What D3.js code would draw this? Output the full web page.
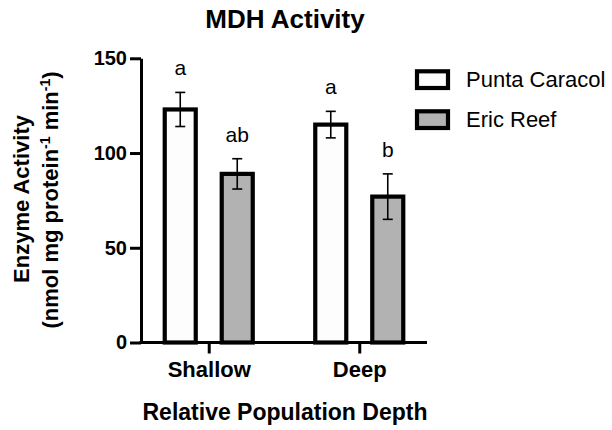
<!DOCTYPE html>
<html>
<head>
<meta charset="utf-8">
<script src="https://cdn.jsdelivr.net/npm/d3@7"></script>
<style>
  html, body { margin: 0; padding: 0; background: #fff; }
  svg { display: block; font-family: "Liberation Sans", Arial, sans-serif; }
</style>
</head>
<body>
<svg id="chart" width="612" height="430"></svg>
<script>
const categories = ["Shallow", "Deep"];
const series = ["Punta Caracol", "Eric Reef"];
const puntaValues = [123, 115];
const puntaErrors = [9, 7];
const ericValues = [89, 77];
const ericErrors = [8, 12];
const puntaLetters = ["a", "a"];
const ericLetters = ["ab", "b"];
const yTicks = [0, 50, 100, 150];
const colors = ["#fdfdfd", "#b2b2b2"];

const svg = d3.select("#chart");

const x0 = d3.scalePoint().domain(categories).range([141, 427]).padding(0.45);
const x1 = d3.scaleBand().domain(series).range([-44, 44]).paddingInner(0.456);
const y = d3.scaleLinear().domain([0, 150]).range([342.5, 58.3]);

const data = [];
categories.forEach((c, i) => {
  data.push({cat: c, s: series[0], v: puntaValues[i], e: puntaErrors[i], l: puntaLetters[i]});
  data.push({cat: c, s: series[1], v: ericValues[i], e: ericErrors[i], l: ericLetters[i]});
});
const color = d3.scaleOrdinal().domain(series).range(colors);

// bars
svg.append("g").selectAll("rect").data(data).join("rect")
  .attr("x", d => x0(d.cat) + x1(d.s))
  .attr("width", x1.bandwidth())
  .attr("y", d => y(d.v))
  .attr("height", d => y(0) - y(d.v))
  .attr("fill", d => color(d.s))
  .attr("stroke", "#000")
  .attr("stroke-width", 4.2);

// error bars
const eg = svg.append("g").attr("stroke", "#000").attr("stroke-width", 1.6);
data.forEach(d => {
  const cx = x0(d.cat) + x1(d.s) + x1.bandwidth() / 2;
  eg.append("line").attr("x1", cx).attr("x2", cx).attr("y1", y(d.v + d.e)).attr("y2", y(d.v - d.e));
  eg.append("line").attr("x1", cx - 5).attr("x2", cx + 5).attr("y1", y(d.v + d.e)).attr("y2", y(d.v + d.e));
  eg.append("line").attr("x1", cx - 5).attr("x2", cx + 5).attr("y1", y(d.v - d.e)).attr("y2", y(d.v - d.e));
});

// letters
svg.append("g").selectAll("text").data(data).join("text")
  .attr("x", d => x0(d.cat) + x1(d.s) + x1.bandwidth() / 2)
  .attr("y", d => y(d.v + d.e) - 17)
  .attr("text-anchor", "middle")
  .attr("font-size", 21)
  .attr("fill", "#000")
  .text(d => d.l);

// y axis
const yAxis = svg.append("g").attr("transform", "translate(141,0)")
  .call(d3.axisLeft(y).tickValues(yTicks).tickSize(11).tickSizeOuter(0).tickPadding(3));
yAxis.selectAll("path, line").attr("stroke", "#000").attr("stroke-width", 3);
yAxis.selectAll("text").attr("font-size", 20).attr("font-weight", "bold").attr("fill", "#000")
  .attr("font-family", "Liberation Sans, Arial, sans-serif");

// x axis
const xAxis = svg.append("g").attr("transform", `translate(0,${y(0)})`)
  .call(d3.axisBottom(x0).tickSize(11).tickSizeOuter(0).tickPadding(8));
xAxis.selectAll("path, line").attr("stroke", "#000").attr("stroke-width", 3);
xAxis.select("path.domain").attr("d", `M139.5,0H427`);
xAxis.selectAll("text").attr("font-size", 22).attr("font-weight", "bold").attr("fill", "#000")
  .attr("font-family", "Liberation Sans, Arial, sans-serif");

// title
svg.append("text").attr("x", 285).attr("y", 28).attr("text-anchor", "middle")
  .attr("font-size", 26).attr("font-weight", "bold").text("MDH Activity");

// x title
svg.append("text").attr("x", 285).attr("y", 420).attr("text-anchor", "middle")
  .attr("font-size", 23).attr("font-weight", "bold").text("Relative Population Depth");

// y title
const yt = svg.append("g").attr("transform", "rotate(-90)");
yt.append("text").attr("x", -199).attr("y", 29).attr("text-anchor", "middle")
  .attr("font-size", 22).attr("font-weight", "bold").text("Enzyme Activity");
const l2 = yt.append("text").attr("x", -200).attr("y", 58).attr("text-anchor", "middle")
  .attr("font-size", 22).attr("font-weight", "bold");
l2.append("tspan").text("(nmol mg protein");
l2.append("tspan").attr("dy", -8).attr("font-size", 14).text("-1");
l2.append("tspan").attr("dy", 8).text(" min");
l2.append("tspan").attr("dy", -8).attr("font-size", 14).text("-1");
l2.append("tspan").attr("dy", 8).text(")");

// legend
const lg = svg.append("g");
series.forEach((s, i) => {
  const yy = 71.3 + i * 40;
  lg.append("rect").attr("x", 417).attr("y", yy).attr("width", 31).attr("height", 16.7)
    .attr("fill", color(s)).attr("stroke", "#000").attr("stroke-width", 4.2);
  lg.append("text").attr("x", 466).attr("y", yy + 16).attr("font-size", 22).attr("fill", "#000").text(s);
});
</script>
</body>
</html>
